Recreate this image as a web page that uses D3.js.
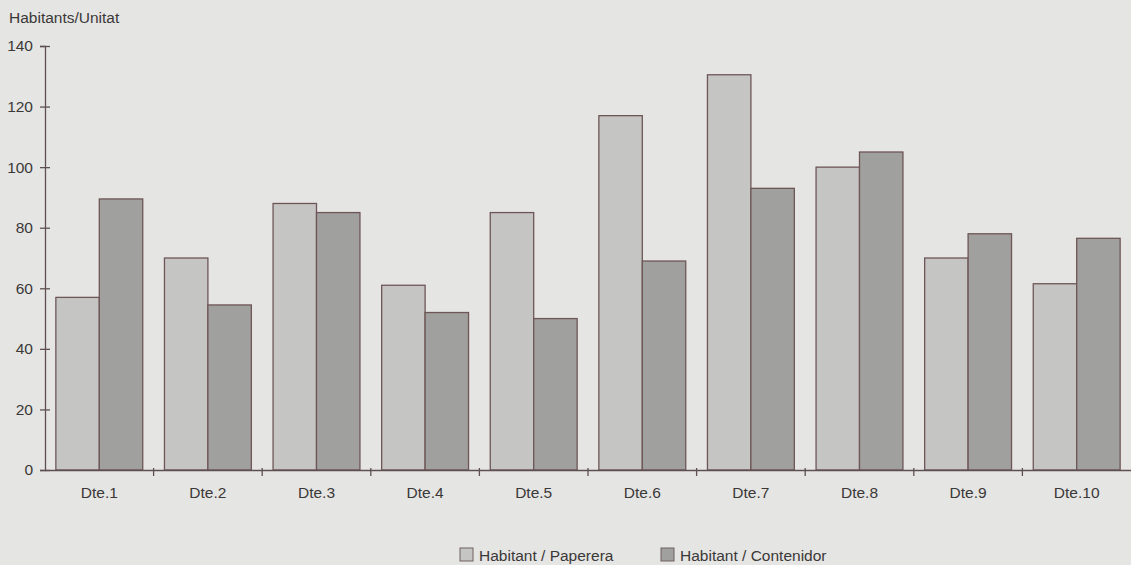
<!DOCTYPE html>
<html><head><meta charset="utf-8">
<script src="https://cdn.jsdelivr.net/npm/d3@7"></script>
<style>
html,body{margin:0;padding:0;background:#e5e5e3;}
svg{display:block;}
text{font-family:"Liberation Sans",Arial,sans-serif;fill:#3b3838;}
</style></head>
<body>
<svg id="chart" width="1131" height="565"></svg>
<script>
const categories = ["Dte.1","Dte.2","Dte.3","Dte.4","Dte.5","Dte.6","Dte.7","Dte.8","Dte.9","Dte.10"];
const seriesNames = ["Habitant / Paperera","Habitant / Contenidor"];
const paperera = [57, 70, 88, 61, 85, 117, 130.5, 100, 70, 61.5];
const contenidor = [89.5, 54.5, 85, 52, 50, 69, 93, 105, 78, 76.5];
const yTicks = [0,20,40,60,80,100,120,140];
const yTitle = "Habitants/Unitat";

const colors = ["#c5c6c4","#a0a09e"];
const strokeCol = "#6e5656";
const FONT = "Liberation Sans, Arial, sans-serif";

const svg = d3.select("#chart");
const x0 = 45, x1 = 1131, yBottom = 470, yTop = 46;

const x = d3.scaleBand().domain(categories).range([x0, x1]).paddingInner(0.2).paddingOuter(0.1);
const xs = d3.scaleBand().domain(seriesNames).range([0, x.bandwidth()]);
const y = d3.scaleLinear().domain([0,140]).range([yBottom, yTop]);

const data = categories.map((c,i)=>({cat:c, vals:[paperera[i], contenidor[i]]}));

// bars
const g = svg.append("g");
data.forEach(d=>{
  d.vals.forEach((v,j)=>{
    g.append("rect")
      .attr("x", x(d.cat)+xs(seriesNames[j]))
      .attr("y", y(v))
      .attr("width", xs.bandwidth())
      .attr("height", y(0)-y(v))
      .attr("fill", colors[j])
      .attr("stroke", strokeCol)
      .attr("stroke-width", 1.3);
  });
});

// y axis
const yAxis = svg.append("g").attr("transform",`translate(${x0},0)`)
  .call(d3.axisLeft(y).tickValues(yTicks).tickSize(5).tickPadding(7));
yAxis.select(".domain").attr("stroke","#5e5050").attr("stroke-width",1.3);
yAxis.selectAll(".tick line").attr("stroke","#5e5050").attr("stroke-width",1.3).attr("x1",5).attr("x2",-5);
yAxis.selectAll(".tick text").attr("font-size",15.5).attr("fill","#3b3838").attr("font-family",FONT);

// x axis
const xAxis = svg.append("g").attr("transform",`translate(0,${yBottom})`)
  .call(d3.axisBottom(x).tickSize(0).tickPadding(17));
xAxis.select(".domain").attr("stroke","#5e5050").attr("stroke-width",1.3);
xAxis.selectAll(".tick text").attr("font-size",15.5).attr("fill","#3b3838").attr("font-family",FONT);
// separators between categories
const seps = categories.slice(1).map(c => x(c) - x.step()*x.paddingInner()/2);
svg.append("g").selectAll("line").data(seps).join("line")
  .attr("x1", d=>d).attr("x2", d=>d).attr("y1", yBottom-2).attr("y2", yBottom+6)
  .attr("stroke","#5e5050").attr("stroke-width",1.3);

// y title
svg.append("text").attr("x",9).attr("y",23).attr("font-size",15.5).text(yTitle);

// legend
const legX = [460, 661];
seriesNames.forEach((s,j)=>{
  svg.append("rect").attr("x",legX[j]).attr("y",548).attr("width",13).attr("height",13)
    .attr("fill",colors[j]).attr("stroke","#6e6060").attr("stroke-width",1);
  svg.append("text").attr("x",legX[j]+19).attr("y",561).attr("font-size",15.5).text(s);
});
</script>
</body></html>
